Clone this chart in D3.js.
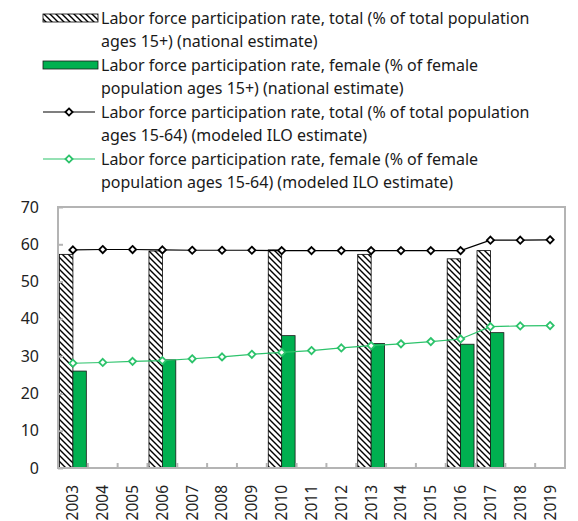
<!DOCTYPE html>
<html>
<head>
<meta charset="utf-8">
<script src="https://cdn.jsdelivr.net/npm/d3@7"></script>
<style>
  html, body { margin: 0; padding: 0; background: #fff; }
  svg { display: block; font-family: "Noto Sans", "Open Sans", sans-serif; }
</style>
</head>
<body>
<svg id="chart" width="578" height="521"></svg>
<script>
// ---- data ----
const years = ["2003","2004","2005","2006","2007","2008","2009","2010","2011","2012","2013","2014","2015","2016","2017","2018","2019"];
const totalNationalYears = ["2003","2006","2010","2013","2016","2017"];
const totalNational = [57.3, 58.2, 58.5, 57.3, 56.1, 58.3];
const femaleNationalYears = ["2003","2006","2010","2013","2016","2017"];
const femaleNational = [26.0, 29.0, 35.5, 33.4, 33.2, 36.3];
const totalModeled = [58.5, 58.6, 58.6, 58.5, 58.4, 58.4, 58.4, 58.3, 58.3, 58.3, 58.3, 58.3, 58.3, 58.3, 61.1, 61.1, 61.2];
const femaleModeled = [28.1, 28.3, 28.6, 28.8, 29.3, 29.8, 30.5, 31.0, 31.5, 32.2, 32.8, 33.3, 33.9, 34.6, 37.9, 38.1, 38.2];
const yTicks = [0, 10, 20, 30, 40, 50, 60, 70];
const legendLabels = [
  ["Labor force participation rate, total (% of total population", "ages 15+) (national estimate)"],
  ["Labor force participation rate, female (% of female", "population ages 15+) (national estimate)"],
  ["Labor force participation rate, total (% of total population", "ages 15-64) (modeled ILO estimate)"],
  ["Labor force participation rate, female (% of female", "population ages 15-64) (modeled ILO estimate)"]
];

// ---- layout ----
const svg = d3.select("#chart");
const pL = 58, pR = 565, pT = 207, pB = 468;
const axisColor = "#b4b4b4";
const barGreen = "#00b050";
const lineGreen = "#2cc36b";

const x = d3.scaleBand().domain(years).range([pL, pR]);
const y = d3.scaleLinear().domain([0, 70]).range([pB, pT]);
const bw = x.bandwidth() * 0.45;

// hatch pattern
const defs = svg.append("defs");
const pat = defs.append("pattern")
  .attr("id", "hatch").attr("patternUnits", "userSpaceOnUse")
  .attr("width", 6).attr("height", 6);
pat.append("rect").attr("width", 6).attr("height", 6).attr("fill", "#fff");
pat.append("path").attr("d", "M-1,-1 L7,7 M-1,5 L1,7 M5,-1 L7,1")
  .attr("stroke", "#000").attr("stroke-width", 1.4);

// bars
svg.append("g").selectAll("rect")
  .data(totalNationalYears.map((yr, i) => ({yr, v: totalNational[i]})))
  .join("rect")
  .attr("x", d => x(d.yr) + x.bandwidth() / 2 - bw)
  .attr("y", d => y(d.v))
  .attr("width", bw)
  .attr("height", d => y(0) - y(d.v))
  .attr("fill", "url(#hatch)")
  .attr("stroke", "#000").attr("stroke-width", 0.8);

svg.append("g").selectAll("rect")
  .data(femaleNationalYears.map((yr, i) => ({yr, v: femaleNational[i]})))
  .join("rect")
  .attr("x", d => x(d.yr) + x.bandwidth() / 2)
  .attr("y", d => y(d.v))
  .attr("width", bw)
  .attr("height", d => y(0) - y(d.v))
  .attr("fill", barGreen)
  .attr("stroke", "#1a1a1a").attr("stroke-width", 0.8);

// frame
svg.append("rect")
  .attr("x", pL).attr("y", pT)
  .attr("width", pR - pL).attr("height", pB - pT)
  .attr("fill", "none").attr("stroke", axisColor).attr("stroke-width", 2);

// y axis ticks (inner) and labels
const yAxis = d3.axisLeft(y).tickValues(yTicks).tickSize(-5).tickPadding(19);
const gy = svg.append("g").attr("transform", `translate(${pL},0)`).call(yAxis);
gy.select(".domain").remove();
gy.selectAll(".tick line").attr("stroke", axisColor).attr("stroke-width", 2);
gy.selectAll(".tick text").attr("font-size", 16).attr("fill", "#222")
  .attr("font-family", "'Noto Sans', 'Open Sans', sans-serif");

// x ticks at band boundaries (inner)
const boundaries = years.slice(1).map(yr => x(yr));
svg.append("g").selectAll("line").data(boundaries).join("line")
  .attr("x1", d => d).attr("x2", d => d)
  .attr("y1", pB).attr("y2", pB - 5)
  .attr("stroke", axisColor).attr("stroke-width", 2);

// x labels
svg.append("g").selectAll("text").data(years).join("text")
  .attr("transform", d => `translate(${x(d) + x.bandwidth() / 2},${pB + 17}) rotate(-90)`)
  .attr("text-anchor", "end").attr("dy", "0.35em")
  .attr("font-size", 15.5).attr("fill", "#222")
  .text(d => d);

// lines
const line = d3.line().x((d, i) => x(years[i]) + x.bandwidth() / 2).y(d => y(d));
function diamond(g, cx, cy, color) {
  const s = 3.6;
  g.append("path")
    .attr("d", `M${cx},${cy - s}L${cx + s},${cy}L${cx},${cy + s}L${cx - s},${cy}Z`)
    .attr("fill", "#fff").attr("stroke", color).attr("stroke-width", 1.8);
}
const gl = svg.append("g");
gl.append("path").datum(totalModeled).attr("d", line)
  .attr("fill", "none").attr("stroke", "#000").attr("stroke-width", 1.2);
gl.append("path").datum(femaleModeled).attr("d", line)
  .attr("fill", "none").attr("stroke", lineGreen).attr("stroke-width", 1.2);
totalModeled.forEach((v, i) => diamond(gl, x(years[i]) + x.bandwidth() / 2, y(v), "#000"));
femaleModeled.forEach((v, i) => diamond(gl, x(years[i]) + x.bandwidth() / 2, y(v), lineGreen));

// legend
const lg = svg.append("g");
const lineH = 23.5, firstY = 18, textX = 101, symX0 = 43, symX1 = 98;
legendLabels.forEach((lines, i) => {
  const cy = firstY + i * 2 * lineH;
  lines.forEach((t, j) => {
    lg.append("text").attr("x", textX).attr("y", cy + j * lineH)
      .attr("dy", "0.35em").attr("font-size", 16).attr("fill", "#1a1a1a").text(t);
  });
  if (i === 0) {
    lg.append("rect").attr("x", symX0).attr("y", cy - 4).attr("width", symX1 - symX0).attr("height", 8)
      .attr("fill", "url(#hatch)").attr("stroke", "#000").attr("stroke-width", 0.8);
  } else if (i === 1) {
    lg.append("rect").attr("x", symX0).attr("y", cy - 4).attr("width", symX1 - symX0).attr("height", 8)
      .attr("fill", barGreen).attr("stroke", "#1a1a1a").attr("stroke-width", 0.8);
  } else {
    const c = i === 2 ? "#000" : lineGreen;
    lg.append("line").attr("x1", symX0).attr("x2", symX1 - 3).attr("y1", cy).attr("y2", cy)
      .attr("stroke", c).attr("stroke-width", 1.2);
    diamond(lg, (symX0 + symX1 - 3) / 2, cy, c);
  }
});
</script>
</body>
</html>
